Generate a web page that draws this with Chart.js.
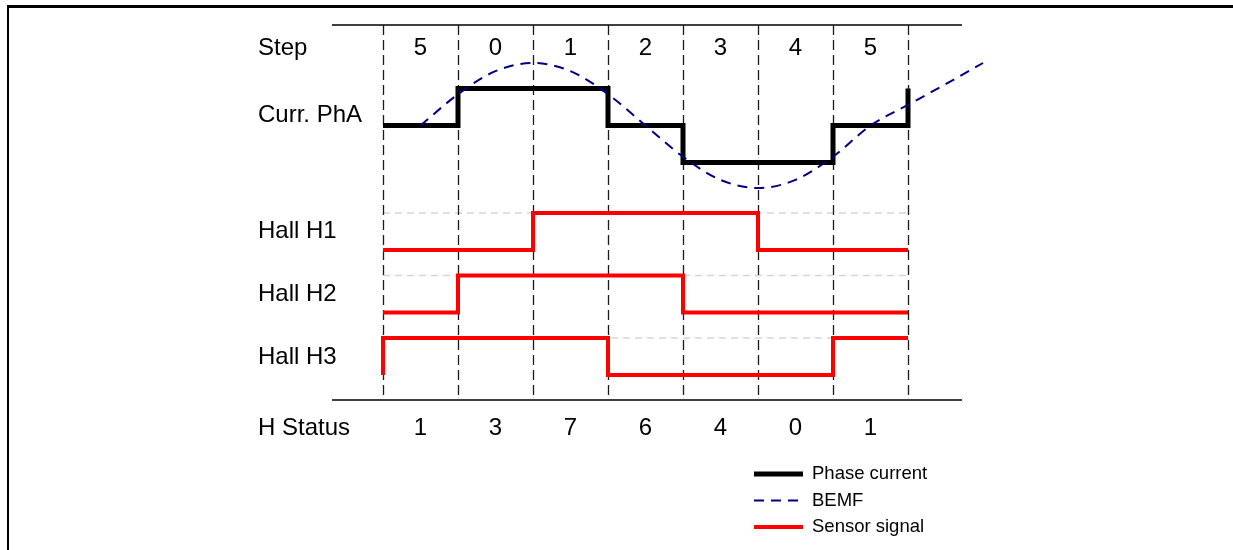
<!DOCTYPE html>
<html>
<head>
<meta charset="utf-8">
<script src="https://cdn.jsdelivr.net/npm/chart.js@4/dist/chart.umd.min.js"></script>
<style>
    body { margin: 0; background: #fff; }
    #quadro { position: relative; width: 1233px; height: 550px; overflow: hidden; }
    #moldura { position: absolute; left: 7px; top: 5px; width: 1300px; height: 600px; border-left: 2px solid #000; border-top: 3px solid #000; }
    #canvas-grafico { position: absolute; left: 0; top: 0; }
</style>
</head>
<body>
<div id="quadro">
    <div id="moldura"></div>
    <canvas id="canvas-grafico" width="1233" height="550"></canvas>
</div>
<script>
// limites dos passos (1 passo = 60 graus eletricos)
var limites_passo = [0, 1, 2, 3, 4, 5, 6, 7];
var rotulos_passo = ["5", "0", "1", "2", "3", "4", "5"];
var rotulos_status = ["1", "3", "7", "6", "4", "0", "1"];
var rotulos_linhas = ["Step", "Curr. PhA", "Hall H1", "Hall H2", "Hall H3", "H Status"];

// o primeiro x se repete para guardar o nivel de antes do passo 0
var x_sinal = [0, 0, 1, 2, 3, 4, 5, 6, 7];
var corrente_fase = [0, 0, 1, 1, 0, -1, -1, 0, 1];
var hall_h1 = [0, 0, 0, 1, 1, 1, 0, 0, 0];
var hall_h2 = [0, 0, 1, 1, 1, 0, 0, 0, 0];
var hall_h3 = [0, 1, 1, 1, 0, 0, 0, 1, 1];

var x_bemf = [0.5, 1, 1.5, 2, 2.5, 3, 3.5, 4, 4.5, 5, 5.5, 6, 6.5, 7, 7.5, 8];
var bemf = [0, 0.5, 0.87, 1, 0.87, 0.5, 0, -0.5, -0.87, -1, -0.87, -0.5, 0, 0.33, 0.66, 1];

(function() {

    // posicoes das linhas do diagrama (eixo y em px, de cima para baixo)
    var y_topo = 25, y_base = 400;
    var x_regua = [-0.68, 7.72];
    var fase_centro = 125.5, fase_degrau = 37;
    var bemf_centro = 125.5, bemf_amplitude = 62.5;
    var hall_baixo = [250, 312.5, 375], hall_degrau = 37;
    var y_rotulos = [48, 115, 231, 294, 357, 428];

    function montar_pontos(xs, valores, centro, escala) {
        return xs.map(function(x, i) {
            return { x: x, y: centro - valores[i] * escala };
        });
    }

    function dataset_hall(valores, linha) {
        return {
            label: "Sensor signal",
            data: montar_pontos(x_sinal, valores, hall_baixo[linha], hall_degrau),
            borderColor: "#ff0000",
            borderWidth: 4,
            stepped: true,
            pointRadius: 0,
            borderJoinStyle: "miter",
            borderCapStyle: "butt",
            fill: false
        };
    }

    var fonte = '"Liberation Sans", Arial, Helvetica, sans-serif';

    var plugin_diagrama = {
        id: "diagrama",
        beforeDatasetsDraw: function(chart) {
            var ctx = chart.ctx, sx = chart.scales.x, sy = chart.scales.y;
            ctx.save();

            // linhas horizontais de cima e de baixo
            ctx.strokeStyle = "#000";
            ctx.lineWidth = 1.5;
            [y_topo, y_base].forEach(function(v) {
                ctx.beginPath();
                ctx.moveTo(sx.getPixelForValue(x_regua[0]), sy.getPixelForValue(v));
                ctx.lineTo(sx.getPixelForValue(x_regua[1]), sy.getPixelForValue(v));
                ctx.stroke();
            });

            // referencia cinza do nivel alto dos sensores
            ctx.strokeStyle = "#d6d6d6";
            ctx.lineWidth = 1.5;
            ctx.setLineDash([7, 5]);
            hall_baixo.forEach(function(b) {
                var y = sy.getPixelForValue(b - hall_degrau);
                ctx.beginPath();
                ctx.moveTo(sx.getPixelForValue(limites_passo[0]), y);
                ctx.lineTo(sx.getPixelForValue(limites_passo[limites_passo.length - 1]), y);
                ctx.stroke();
            });

            // divisoes tracejadas dos passos
            ctx.strokeStyle = "#1a1a1a";
            ctx.lineWidth = 1.3;
            ctx.setLineDash([10, 5]);
            limites_passo.forEach(function(v) {
                var x = Math.round(sx.getPixelForValue(v)) + 0.5;
                ctx.beginPath();
                ctx.moveTo(x, sy.getPixelForValue(y_topo));
                ctx.lineTo(x, sy.getPixelForValue(y_base));
                ctx.stroke();
            });
            ctx.restore();
        },
        afterDatasetsDraw: function(chart) {
            var ctx = chart.ctx, sx = chart.scales.x, sy = chart.scales.y;
            ctx.save();
            ctx.fillStyle = "#000";
            ctx.textBaseline = "middle";

            ctx.font = "24px " + fonte;
            ctx.textAlign = "left";
            var x_rotulo = sx.getPixelForValue(0) - 125;
            rotulos_linhas.forEach(function(t, i) {
                ctx.fillText(t, x_rotulo, sy.getPixelForValue(y_rotulos[i]));
            });

            ctx.textAlign = "center";
            rotulos_passo.forEach(function(t, i) {
                ctx.fillText(t, sx.getPixelForValue(i + 0.5), sy.getPixelForValue(y_rotulos[0]));
            });
            rotulos_status.forEach(function(t, i) {
                ctx.fillText(t, sx.getPixelForValue(i + 0.5), sy.getPixelForValue(y_rotulos[5]));
            });

            // legenda
            var itens = [chart.data.datasets[1], chart.data.datasets[0], chart.data.datasets[2]];
            var lx = 754, ly = 474;
            ctx.font = "18.5px " + fonte;
            ctx.textAlign = "left";
            itens.forEach(function(ds, i) {
                var y = ly + i * 26.5;
                ctx.strokeStyle = ds.borderColor;
                ctx.lineWidth = ds.borderWidth;
                ctx.setLineDash(ds.borderDash || []);
                ctx.beginPath();
                ctx.moveTo(lx, y);
                ctx.lineTo(lx + 49, y);
                ctx.stroke();
                ctx.fillText(ds.label, lx + 58, y);
            });
            ctx.restore();
        }
    };

    var canvas = document.getElementById("canvas-grafico");

    var data = {
        datasets: [
            {
                label: "BEMF",
                data: montar_pontos(x_bemf, bemf, bemf_centro, bemf_amplitude),
                borderColor: "#000080",
                borderWidth: 2,
                borderDash: [10, 7],
                cubicInterpolationMode: "monotone",
                pointRadius: 0,
                fill: false
            },
            {
                label: "Phase current",
                data: montar_pontos(x_sinal, corrente_fase, fase_centro, fase_degrau),
                borderColor: "#000000",
                borderWidth: 5,
                stepped: true,
                pointRadius: 0,
                borderJoinStyle: "miter",
                borderCapStyle: "butt",
                fill: false
            },
            dataset_hall(hall_h1, 0),
            dataset_hall(hall_h2, 1),
            dataset_hall(hall_h3, 2)
        ]
    };

    var chart = new Chart(canvas, {
        type: "line",
        data: data,
        options: {
            responsive: false,
            devicePixelRatio: 1,
            animation: false,
            events: [],
            layout: { padding: 0 },
            scales: {
                x: { type: "linear", display: false, min: -383 / 75, max: (1233 - 383) / 75 },
                y: { type: "linear", display: false, reverse: true, min: 0, max: 550 }
            },
            plugins: {
                legend: { display: false },
                tooltip: { enabled: false }
            }
        },
        plugins: [plugin_diagrama]
    });
})();
</script>
</body>
</html>
